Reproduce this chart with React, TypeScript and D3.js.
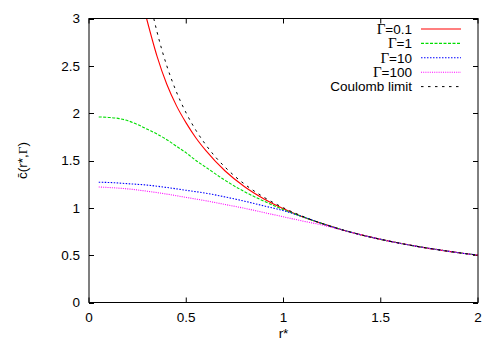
import React from "react";
import * as d3 from "d3";

// r* grid values and c(r*,Γ)
const rRed = [0.296, 0.35, 0.4, 0.45, 0.5, 0.55, 0.6, 0.7, 0.8, 0.9, 1.0, 1.1, 1.2, 1.3, 1.4, 1.5, 1.6, 1.7, 1.8, 1.9, 2.0];
const cRed = [3.0, 2.6, 2.305, 2.077, 1.895, 1.738, 1.607, 1.389, 1.223, 1.094, 0.99, 0.904, 0.833, 0.769, 0.714, 0.667, 0.625, 0.588, 0.556, 0.526, 0.5];

const rGreen = [0.05, 0.1, 0.15, 0.2, 0.25, 0.3, 0.35, 0.4, 0.45, 0.5, 0.55, 0.6, 0.7, 0.8, 0.9, 1.0, 1.1, 1.2, 1.3, 1.4, 1.5, 1.6, 1.7, 1.8, 1.9, 2.0];
const cGreen = [1.96, 1.955, 1.945, 1.92, 1.88, 1.83, 1.78, 1.72, 1.65, 1.58, 1.5, 1.43, 1.29, 1.17, 1.07, 0.98, 0.905, 0.833, 0.769, 0.714, 0.667, 0.625, 0.588, 0.556, 0.526, 0.5];

const rBlue = [0.05, 0.1, 0.2, 0.3, 0.4, 0.5, 0.6, 0.7, 0.8, 0.9, 1.0, 1.1, 1.2, 1.3, 1.4, 1.5, 1.6, 1.7, 1.8, 1.9, 2.0];
const cBlue = [1.27, 1.268, 1.255, 1.24, 1.215, 1.185, 1.155, 1.115, 1.07, 1.02, 0.97, 0.905, 0.833, 0.769, 0.714, 0.667, 0.625, 0.588, 0.556, 0.526, 0.5];

const rMagenta = [0.05, 0.1, 0.2, 0.3, 0.4, 0.5, 0.6, 0.7, 0.8, 0.9, 1.0, 1.1, 1.2, 1.3, 1.4, 1.5, 1.6, 1.7, 1.8, 1.9, 2.0];
const cMagenta = [1.22, 1.215, 1.2, 1.175, 1.145, 1.11, 1.075, 1.035, 0.995, 0.95, 0.905, 0.86, 0.818, 0.766, 0.714, 0.667, 0.625, 0.588, 0.556, 0.526, 0.5];

const rCoulomb = [0.333, 0.35, 0.375, 0.4, 0.45, 0.5, 0.55, 0.6, 0.65, 0.7, 0.75, 0.8, 0.9, 1.0, 1.1, 1.2, 1.3, 1.4, 1.5, 1.6, 1.7, 1.8, 1.9, 2.0];
const cCoulomb = [3.0, 2.857, 2.667, 2.5, 2.222, 2.0, 1.818, 1.667, 1.538, 1.429, 1.333, 1.25, 1.111, 1.0, 0.909, 0.833, 0.769, 0.714, 0.667, 0.625, 0.588, 0.556, 0.526, 0.5];

const xTicks = [0, 0.5, 1, 1.5, 2];
const yTicks = [0, 0.5, 1, 1.5, 2, 2.5, 3];

const seriesLabels = ["0.1", "1", "10", "100"];

const FONT = "'Liberation Sans', Arial, Helvetica, sans-serif";
const GREEK = "'Liberation Serif', 'Times New Roman', serif";

export default function App() {
  const width = 500,
    height = 350;
  const left = 89,
    right = 478,
    top = 18.5,
    bottom = 302.5;

  const x = d3.scaleLinear().domain([0, 2]).range([left, right]);
  const y = d3.scaleLinear().domain([0, 3]).range([bottom, top]);

  const line = d3
    .line<[number, number]>()
    .x((d) => x(d[0]))
    .y((d) => y(d[1]))
    .curve(d3.curveMonotoneX);

  const zip = (a: number[], b: number[]) => a.map((v, i) => [v, b[i]] as [number, number]);

  const series = [
    { data: zip(rRed, cRed), color: "#ff0000", dash: "none", label: seriesLabels[0] },
    { data: zip(rGreen, cGreen), color: "#00dd00", dash: "3,1.5", label: seriesLabels[1] },
    { data: zip(rBlue, cBlue), color: "#0000ff", dash: "1.5,1.5", label: seriesLabels[2] },
    { data: zip(rMagenta, cMagenta), color: "#ff00ff", dash: "1,1.2", label: seriesLabels[3] },
  ];
  const coulomb = { data: zip(rCoulomb, cCoulomb), color: "#000000", dash: "2.5,4.5" };

  const legendY = (i: number) => 29 + i * 14.4;

  return (
    <svg width={width} height={height} style={{ position: "absolute", left: 0, top: 0, background: "#fff" }}>
      <defs>
        <clipPath id="plot">
          <rect x={left} y={top} width={right - left} height={bottom - top} />
        </clipPath>
      </defs>

      {/* ticks, mirrored on all sides */}
      <g stroke="#000" strokeWidth={1}>
        {yTicks.map((t) => (
          <g key={"y" + t}>
            <line x1={left} x2={left + 5} y1={Math.round(y(t)) + 0.5} y2={Math.round(y(t)) + 0.5} />
            <line x1={right - 5} x2={right} y1={Math.round(y(t)) + 0.5} y2={Math.round(y(t)) + 0.5} />
          </g>
        ))}
        {xTicks.map((t) => (
          <g key={"x" + t}>
            <line x1={x(t)} x2={x(t)} y1={bottom} y2={bottom - 5} />
            <line x1={x(t)} x2={x(t)} y1={top} y2={top + 5} />
          </g>
        ))}
      </g>

      <g fontFamily={FONT} fontSize={13.5} fill="#000">
        {yTicks.map((t) => (
          <text key={"yl" + t} x={80} y={y(t)} dy="0.36em" textAnchor="end">
            {t}
          </text>
        ))}
        {xTicks.map((t) => (
          <text key={"xl" + t} x={x(t)} y={322} textAnchor="middle">
            {t}
          </text>
        ))}
        <text x={(left + right) / 2} y={338} textAnchor="middle">
          r*
        </text>
        <text transform={`translate(27, ${(top + bottom) / 2}) rotate(-90)`} textAnchor="middle">
          c̄(r*,<tspan fontFamily={GREEK}>Γ</tspan>)
        </text>
      </g>

      <g clipPath="url(#plot)" fill="none">
        {series.map((s, i) => (
          <path key={i} d={line(s.data) || ""} stroke={s.color} strokeWidth={1.1} strokeDasharray={s.dash} />
        ))}
        <path d={line(coulomb.data) || ""} stroke={coulomb.color} strokeWidth={1} strokeDasharray={coulomb.dash} />
      </g>

      {/* legend */}
      <g fontFamily={FONT} fontSize={13.5}>
        {series.map((s, i) => (
          <g key={"lg" + i}>
            <text x={412} y={legendY(i)} dy="0.36em" textAnchor="end">
              <tspan fontFamily={GREEK} fontSize={15}>Γ</tspan>={s.label}
            </text>
            <line x1={421} x2={461} y1={legendY(i)} y2={legendY(i)} stroke={s.color} strokeWidth={1.1} strokeDasharray={s.dash} />
          </g>
        ))}
        <text x={412} y={legendY(4)} dy="0.36em" textAnchor="end">
          Coulomb limit
        </text>
        <line x1={421} x2={461} y1={legendY(4)} y2={legendY(4)} stroke="#000" strokeWidth={1} strokeDasharray={coulomb.dash} />
      </g>

      {/* border */}
      <rect x={left} y={top} width={right - left} height={bottom - top} fill="none" stroke="#000" strokeWidth={1} />
    </svg>
  );
}
